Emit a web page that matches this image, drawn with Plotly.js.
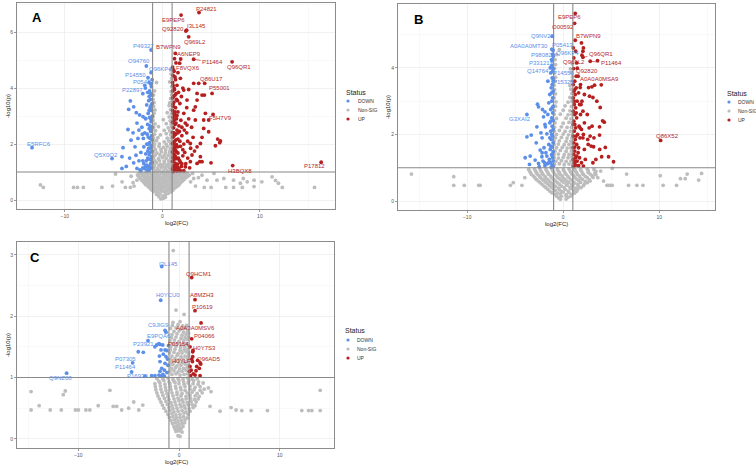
<!DOCTYPE html>
<html><head><meta charset="utf-8">
<script src="https://cdn.plot.ly/plotly-3.0.1.min.js"></script>
<style>html,body{margin:0;padding:0;background:#fff}#chart{width:756px;height:469px}</style>
</head><body><div id="chart"></div>
<script>
// ---------------- DATA ----------------
const statusNames = ['DOWN', 'Non-SIG', 'UP'];
const xTicks = [-10, 0, 10];
const yTicksA = [0, 2, 4, 6];
const yTicksB = [0, 2, 4];
const yTicksC = [0, 1, 2, 3];
const fcCut = 1;      // |log2FC| threshold
const pCut = 1;       // -log10(p) threshold

// ---- Panel A ----
const A_label_names = ['P24821','E9PEP6','I3L145','Q92820','Q969L2','B7WPN9','A6NEP9','P11464','Q96QR1','F8VQX6','Q86U17','P55001','F5H7V9','H3BQX8','P17812','P49327','O94760','Q96KP4','P14550','P05413','P22897','E5RFC6','Q5X0Q2'];
const A_label_x = [3.76,1.92,2.49,2.41,2.70,1.33,1.88,3.21,7.15,1.77,4.34,5.10,5.20,7.21,16.28,-1.16,-1.64,-1.16,-1.47,-1.16,-1.74,-13.36,-5.16];
const A_label_y = [6.70,6.61,6.07,6.04,5.83,5.24,5.04,5.03,4.94,4.89,4.17,3.81,3.06,1.23,1.35,5.36,4.79,4.55,4.37,4.14,4.00,1.87,1.48];
const A_down = [[-1.05,4.3],[-1.12,4.05],[-1.3,3.9],[-1.5,3.85],[-1.08,3.75],[-1.2,3.6],[-1.4,3.55],[-1.05,3.45],[-1.6,3.4],[-1.25,3.3],[-1.1,3.2],[-1.45,3.1],[-1.03,3.0],[-1.3,2.95],[-1.7,2.9],[-1.15,2.8],[-1.5,2.7],[-1.05,2.6],[-1.35,2.55],[-1.2,2.45],[-1.8,2.4],[-1.1,2.3],[-1.45,2.25],[-1.05,2.15],[-1.3,2.05],[-1.6,2.0],[-1.15,1.95],[-1.9,1.9],[-1.4,1.85],[-1.05,1.75],[-1.25,1.7],[-1.7,1.65],[-1.1,1.55],[-1.5,1.5],[-1.3,1.45],[-2.0,1.4],[-1.05,1.35],[-1.2,1.3],[-1.6,1.25],[-1.4,1.2],[-1.1,1.15],[-1.8,1.12],[-1.3,1.08],[-1.55,1.05],[-2.2,1.05],
 [-1.15,4.15],[-1.2,3.8],[-1.35,3.7],[-1.15,3.38],[-1.35,3.2],[-1.2,2.9],[-1.25,2.65],[-1.1,2.5],[-1.55,2.35],[-1.25,2.2],[-1.45,2.0],[-1.2,1.85],[-1.5,1.75],[-1.35,1.62],[-1.2,1.45],[-1.65,1.4],[-1.25,1.18],[-1.45,1.1],[-1.7,1.2],[-2.0,1.15],
 [-3.28,3.54],[-3.45,3.24],[-2.94,3.33],[-2.67,3.12],[-2.33,3.04],[-1.98,2.98],[-1.74,2.92],[-3.52,2.52],[-3.21,2.14],[-4.03,1.87],[-4.14,1.55],[-3.35,1.5],[-2.94,1.33],[-2.6,1.13],[-4.14,1.13],[-2.3,1.08],[-3.0,2.4],[-2.5,2.2],[-2.8,1.9],[-2.2,1.7],[-3.7,1.2],[-2.1,2.6],[-2.4,1.4],[-1.95,2.2],[-2.7,1.6],[-2.0,3.8],[-1.8,4.1],[-1.35,4.2],[-2.4,2.5],[-2.05,2.35],[-1.9,1.3],[-2.6,2.75]];
const A_up = [[1.05,4.75],[1.2,4.6],[1.1,4.45],[1.35,4.3],[1.05,4.2],[1.5,4.1],[1.2,4.0],[1.08,3.9],[1.65,3.85],[1.3,3.75],[1.05,3.65],[1.45,3.6],[1.2,3.5],[1.8,3.45],[1.1,3.35],[1.35,3.3],[1.05,3.2],[1.6,3.15],[1.25,3.05],[1.1,2.95],[1.45,2.9],[1.9,2.85],[1.05,2.78],[1.3,2.7],[1.7,2.65],[1.15,2.58],[1.5,2.5],[1.05,2.42],[1.35,2.35],[2.0,2.3],[1.1,2.25],[1.6,2.18],[1.25,2.1],[1.05,2.02],[1.45,1.98],[1.85,1.92],[1.15,1.85],[1.35,1.78],[1.05,1.72],[1.6,1.68],[1.25,1.6],[2.1,1.58],[1.1,1.52],[1.45,1.48],[1.75,1.42],[1.05,1.38],[1.3,1.32],[1.55,1.28],[1.15,1.22],[1.95,1.2],[1.4,1.15],[1.05,1.12],[1.7,1.1],[1.25,1.06],[1.5,1.04],[2.2,1.05],[1.1,1.02],[2.4,1.3],[2.3,1.7],[2.2,2.0],[2.6,1.5],[2.8,1.15],[2.5,2.4],[2.0,2.6],[2.2,3.1],[1.95,3.7],[2.5,3.3],[2.1,4.0],[1.85,4.35],[1.6,4.55],[1.4,4.9],[1.25,5.05],[2.7,2.9],[2.35,2.75],[3.0,2.6],[2.6,2.1],[3.3,1.75],[2.9,1.85],
 [1.15,4.65],[1.3,4.4],[1.1,4.1],[1.25,3.95],[1.4,3.8],[1.15,3.7],[1.55,3.55],[1.1,3.42],[1.3,3.15],[1.15,3.1],[1.5,3.02],[1.2,2.85],[1.4,2.75],[1.6,2.4],[1.2,2.3],[1.4,2.15],[1.15,2.0],[1.55,1.9],[1.25,1.8],[1.45,1.72],[1.15,1.65],[1.35,1.55],[1.65,1.5],[1.2,1.45],[1.85,1.35],[1.4,1.25],[1.25,1.15],[1.6,1.17],[1.85,1.05],[2.0,1.3],[2.1,1.8],[1.8,2.1],[1.75,2.45],[2.25,2.5],
 [3.21,4.17],[3.73,4.17],[2.70,3.95],[3.56,3.81],[4.31,3.75],[2.19,3.93],[3.38,3.33],[3.21,3.21],[4.41,3.10],[3.38,2.86],[4.24,2.86],[2.53,2.68],[4.24,2.56],[4.75,2.44],[5.67,2.18],[5.95,2.11],[5.44,1.94],[4.07,2.24],[3.90,2.02],[3.15,2.24],[2.87,2.02],[3.56,1.90],[3.04,1.61],[3.90,1.55],[4.07,1.37],[4.99,1.33],[2.36,1.19],[3.56,1.31],[2.87,1.37],[2.53,3.57],[3.56,3.57],[4.07,3.75],[3.83,1.37],[4.75,2.86],[5.88,2.05],[1.3,1.9],[1.2,2.4],[1.4,3.0]];
const A_nonsig = [[-0.15,0.04],[0.1,0.06],[0.3,0.1],[-0.35,0.12],[0.05,0.15],[-0.6,0.2],[-0.25,0.22],[0.35,0.2],[0.6,0.24],[-0.9,0.3],[-0.5,0.28],[-0.1,0.32],[0.2,0.3],[0.55,0.34],[0.9,0.29],
 [-1.2,0.4],[-0.8,0.38],[-0.4,0.42],[0.0,0.4],[0.4,0.37],[0.8,0.43],[1.2,0.41],
 [-1.5,0.5],[-1.1,0.52],[-0.7,0.48],[-0.3,0.51],[0.1,0.49],[0.5,0.53],[0.9,0.5],[1.3,0.47],[1.65,0.52],
 [-1.8,0.6],[-1.4,0.62],[-1.0,0.58],[-0.6,0.61],[-0.2,0.6],[0.2,0.63],[0.6,0.58],[1.0,0.61],[1.4,0.6],[1.85,0.62],
 [-2.1,0.7],[-1.65,0.72],[-1.2,0.68],[-0.8,0.71],[-0.4,0.7],[0.0,0.73],[0.4,0.69],[0.8,0.71],[1.2,0.68],[1.6,0.72],[2.1,0.7],
 [-2.3,0.8],[-1.8,0.82],[-1.3,0.79],[-0.9,0.81],[-0.5,0.8],[-0.1,0.78],[0.3,0.82],[0.7,0.8],[1.1,0.79],[1.5,0.83],[2.0,0.8],[2.45,0.81],
 [-2.55,0.9],[-2.0,0.92],[-1.5,0.89],[-1.1,0.91],[-0.7,0.9],[-0.3,0.88],[0.1,0.92],[0.5,0.9],[0.9,0.89],[1.3,0.91],[1.8,0.9],[2.3,0.92],[2.75,0.89],
 [-2.2,0.98],[-1.7,0.97],[-1.3,0.99],[-0.9,0.97],[-0.5,0.99],[0.0,0.97],[0.5,0.98],[0.9,0.99],[1.35,0.97],[1.8,0.98],[2.4,0.97],
 [-1.05,0.35],[-0.7,0.34],[-0.3,0.36],[0.4,0.33],[0.75,0.36],[1.05,0.35],
 [-1.35,0.45],[-1.0,0.46],[-0.6,0.44],[-0.2,0.45],[0.2,0.46],[0.6,0.44],[1.0,0.45],[1.4,0.46],
 [-1.7,0.55],[-1.3,0.56],[-0.9,0.54],[-0.5,0.55],[-0.1,0.56],[0.3,0.54],[0.7,0.55],[1.1,0.56],[1.5,0.55],[1.75,0.57],
 [-1.95,0.65],[-1.6,0.66],[-1.2,0.64],[-0.8,0.65],[-0.4,0.66],[0.0,0.64],[0.4,0.65],[0.8,0.66],[1.2,0.64],[1.6,0.65],[2.0,0.66],
 [-2.2,0.75],[-1.85,0.76],[-1.45,0.74],[-1.0,0.75],[-0.6,0.76],[-0.2,0.74],[0.2,0.75],[0.6,0.76],[1.0,0.74],[1.4,0.75],[1.85,0.76],[2.25,0.74],
 [-2.45,0.85],[-2.05,0.86],[-1.55,0.84],[-1.1,0.85],[-0.7,0.86],[-0.3,0.84],[0.1,0.85],[0.5,0.86],[0.9,0.84],[1.3,0.85],[1.75,0.86],[2.2,0.84],[2.6,0.85],
 [-2.35,0.94],[-1.8,0.93],[-1.3,0.95],[-0.9,0.94],[-0.5,0.93],[-0.1,0.95],[0.3,0.94],[0.7,0.93],[1.1,0.95],[1.55,0.94],[2.05,0.93],[2.55,0.95],
 [-0.9,1.15],[-0.5,1.12],[-0.1,1.17],[0.3,1.14],[0.7,1.16],[0.95,1.13],
 [-0.95,1.3],[-0.6,1.33],[-0.2,1.28],[0.2,1.31],[0.6,1.29],[0.9,1.32],
 [-0.9,1.5],[-0.4,1.48],[0.0,1.52],[0.4,1.49],[0.85,1.51],
 [-0.95,1.7],[-0.55,1.68],[-0.1,1.72],[0.3,1.69],[0.75,1.71],[0.97,1.66],
 [-0.85,1.9],[-0.35,1.92],[0.1,1.88],[0.5,1.91],[0.9,1.89],
 [-0.95,2.1],[-0.6,2.12],[0.2,2.08],[0.65,2.11],[0.95,2.09],
 [-0.8,2.35],[-0.2,2.33],[0.4,2.37],[0.85,2.34],
 [-0.9,2.6],[-0.4,2.62],[0.6,2.58],[0.95,2.61],
 [-0.95,2.85],[0.1,2.87],[0.8,2.83],
 [-0.85,3.1],[0.5,3.12],[0.92,3.08],
 [-0.9,3.35],[0.7,3.37],[0.95,3.5],
 [-0.95,3.6],[0.85,3.62],
 [-0.8,3.9],[0.9,3.88],[0.95,4.05],
 [-0.6,4.2],[0.75,4.22],[0.9,4.5],[0.85,4.65],
 [-0.75,1.05],[-0.3,1.06],[0.1,1.04],[0.5,1.05],[0.85,1.06],
 [-0.8,1.22],[-0.35,1.23],[0.05,1.21],[0.45,1.22],[0.8,1.23],
 [-0.75,1.4],[-0.3,1.41],[0.2,1.39],[0.65,1.4],[0.97,1.41],
 [-0.75,1.6],[-0.25,1.61],[0.2,1.59],[0.6,1.6],[0.95,1.61],
 [-0.7,1.8],[-0.15,1.81],[0.35,1.79],[0.8,1.8],
 [-0.8,2.0],[-0.3,2.01],[0.4,1.99],[0.85,2.0],
 [-0.9,2.22],[-0.45,2.23],[0.5,2.21],[0.9,2.22],
 [-0.7,2.48],[0.2,2.49],[0.75,2.47],
 [-0.75,2.72],[0.4,2.73],[0.9,2.71],
 [-0.95,2.98],[0.7,2.97],[-0.75,3.22],[0.85,3.23],[-0.85,3.48],[0.75,3.47],[-0.9,3.75],[0.95,3.76],[0.95,4.35],
 [-12.5,0.54],[-12.2,0.45],[-9.1,0.45],[-8.7,0.45],[-8.1,0.45],[-6.2,0.45],[-5.1,0.5],[-4.8,0.93],[-4.13,0.65],[-3.79,0.45],[-3.28,0.45],[-3.0,0.62],[-2.6,0.71],[-3.2,0.85],[-2.9,0.5],
 [10.2,0.65],[11.25,0.83],[11.6,0.7],[11.9,0.6],[12.3,0.45],[15.6,0.45],[9.4,0.48],[9.4,0.71],[8.3,0.77],[8.2,0.45],[8.7,0.65],[8.0,0.6],[7.3,0.45],[7.3,0.71],[6.5,0.45],[6.3,0.77],[5.6,0.71],[5.3,0.95],[5.0,0.45],[4.58,0.71],[4.3,0.45],[4.07,0.89],[3.7,0.8],[3.4,0.5],[3.21,0.77],[3.1,0.95],[2.9,0.65]];

// ---- Panel B ----
const B_label_names = ['E9PEP6','O00592','B7WPN9','Q9NV29','A0A0A0MT30','P05413','Q96KP4','P98082','P33121','Q14764','P14550','P15328','Q96QR1','Q969L2','P11464','Q92820','A0A0A0MSA9','G3XAI2','Q86X52'];
const B_label_x = [1.25,1.18,1.25,-1.15,-1.18,-1.06,-1.09,-1.18,-1.18,-1.25,-1.04,-1.04,2.05,1.46,2.81,1.07,1.35,-3.78,10.14];
const B_label_y = [5.64,5.34,4.83,4.95,4.56,4.53,4.41,4.21,4.08,4.03,3.98,3.68,4.32,3.99,4.20,3.98,3.75,2.60,1.82];
const B_down = [[-1.05,4.35],[-1.2,4.25],[-1.1,3.9],[-1.3,3.85],[-1.05,3.6],[-1.15,3.5],[-1.25,3.4],[-1.05,3.3],[-1.4,3.2],[-1.1,3.1],[-1.2,3.0],[-1.5,2.95],[-1.05,2.85],[-1.3,2.75],[-1.1,2.65],[-1.6,2.6],[-1.2,2.5],[-1.05,2.42],[-1.4,2.35],[-1.15,2.25],[-1.05,2.15],[-1.3,2.1],[-1.7,2.02],[-1.1,1.95],[-1.25,1.85],[-1.05,1.75],[-1.5,1.7],[-1.15,1.62],[-1.35,1.55],[-1.05,1.48],[-1.8,1.45],[-1.2,1.4],[-1.1,1.3],[-1.45,1.25],[-1.05,1.2],[-1.3,1.15],[-1.65,1.12],[-1.15,1.08],[-1.05,1.04],[-1.9,1.06],[-2.1,1.2],[-2.0,1.6],[-1.9,2.3],[-2.2,1.9],[-1.6,3.6],[-1.35,4.0],
 [-1.15,3.7],[-1.2,3.25],[-1.15,2.8],[-1.3,2.4],[-1.2,2.0],[-1.4,1.9],[-1.3,1.65],[-1.15,1.35],[-1.5,1.15],[-1.25,1.02],
 [-2.68,2.91],[-2.57,2.83],[-2.16,2.75],[-2.05,2.53],[-1.9,2.68],[-3.78,1.93],[-3.33,1.98],[-2.74,2.23],[-2.32,2.05],[-1.85,2.23],[-2.81,1.75],[-2.4,1.53],[-2.2,1.45],[-3.96,1.30],[-3.44,1.35],[-3.51,1.10],[-2.92,1.23],[-2.57,1.13],[-2.22,1.33],[-1.95,1.15],[-1.7,1.35],[-2.5,1.03]];
const B_up = [[1.05,4.6],[1.3,4.5],[1.1,4.3],[1.4,4.15],[1.2,3.6],[1.05,3.5],[1.35,3.4],[1.1,3.3],[1.25,3.2],[1.05,3.1],[1.45,3.0],[1.15,2.9],[1.3,2.8],[1.05,2.7],[1.2,2.6],[1.4,2.5],[1.1,2.4],[1.05,2.3],[1.3,2.2],[1.15,2.1],[1.5,2.0],[1.05,1.95],[1.25,1.85],[1.1,1.75],[1.4,1.7],[1.05,1.6],[1.2,1.5],[1.55,1.45],[1.1,1.4],[1.3,1.3],[1.05,1.25],[1.45,1.2],[1.15,1.15],[1.3,1.08],[1.05,1.04],[1.6,1.06],[1.7,1.3],[1.6,1.6],[1.75,1.9],[1.65,2.25],[1.8,2.6],[1.7,2.9],[1.6,3.25],[1.8,3.5],[1.55,3.75],[2.1,4.6],[1.9,4.75],[2.05,4.5],[1.95,4.38],[3.57,4.22],
 [1.2,3.35],[1.15,3.0],[1.35,2.65],[1.2,2.3],[1.35,1.95],[1.2,1.62],[1.4,1.35],[1.25,1.18],
 [1.77,3.41],[2.64,3.41],[2.99,3.43],[3.26,3.48],[3.96,3.49],[2.2,3.2],[1.95,3.0],[2.74,3.15],[3.09,3.11],[1.85,2.9],[2.05,2.7],[3.85,2.81],[1.75,2.2],[2.1,2.0],[2.8,1.95],[4.10,2.41],[4.27,2.37],[2.2,2.35],[2.7,2.2],[3.0,2.25],[1.9,2.15],[3.78,2.23],[2.05,1.9],[2.55,1.85],[3.2,1.9],[3.78,1.98],[2.6,1.7],[2.9,1.65],[2.2,1.55],[3.16,1.63],[4.38,1.61],[3.8,1.55],[4.72,1.33],[5.24,1.18],[4.0,1.33],[3.4,1.25],[3.09,1.15],[2.3,1.25],[1.9,1.15],[2.1,1.05],[3.5,3.0],[2.5,2.6]];
const B_nonsig = [[-0.3,0.05],[0.3,0.06],[-0.7,0.15],[-0.2,0.14],[0.3,0.16],[0.8,0.15],[-1.2,0.25],[-0.6,0.24],[0.0,0.27],[0.6,0.25],[1.2,0.24],
 [-1.6,0.35],[-1.0,0.36],[-0.4,0.34],[0.2,0.35],[0.8,0.37],[1.5,0.35],
 [-2.0,0.45],[-1.4,0.46],[-0.8,0.44],[-0.2,0.45],[0.4,0.47],[1.0,0.45],[1.6,0.44],[2.1,0.46],
 [-2.4,0.55],[-1.8,0.56],[-1.2,0.54],[-0.6,0.55],[0.0,0.57],[0.6,0.55],[1.2,0.54],[1.8,0.56],[2.5,0.55],
 [-2.8,0.65],[-2.2,0.66],[-1.6,0.64],[-1.0,0.65],[-0.4,0.67],[0.2,0.65],[0.8,0.64],[1.4,0.66],[2.0,0.65],[2.7,0.64],
 [-3.1,0.75],[-2.5,0.76],[-1.9,0.74],[-1.3,0.75],[-0.7,0.77],[-0.1,0.75],[0.5,0.74],[1.1,0.76],[1.7,0.75],[2.3,0.74],[3.0,0.76],
 [-3.4,0.85],[-2.8,0.86],[-2.2,0.84],[-1.6,0.85],[-1.0,0.87],[-0.4,0.85],[0.2,0.84],[0.8,0.86],[1.4,0.85],[2.0,0.84],[2.6,0.86],[3.3,0.85],
 [-3.6,0.95],[-3.0,0.96],[-2.4,0.94],[-1.8,0.95],[-1.2,0.97],[-0.6,0.95],[0.0,0.94],[0.6,0.96],[1.2,0.95],[1.8,0.94],[2.5,0.96],[3.2,0.95],
 [-0.5,0.1],[0.5,0.11],[-0.9,0.2],[-0.3,0.21],[0.3,0.19],[0.9,0.2],
 [-1.4,0.3],[-0.8,0.31],[-0.2,0.29],[0.5,0.3],[1.1,0.31],[1.4,0.29],
 [-1.8,0.4],[-1.2,0.41],[-0.5,0.39],[0.1,0.4],[0.7,0.41],[1.3,0.39],[1.85,0.4],
 [-2.2,0.5],[-1.6,0.51],[-1.0,0.49],[-0.4,0.5],[0.3,0.51],[0.9,0.49],[1.5,0.5],[2.2,0.51],
 [-2.6,0.6],[-2.0,0.61],[-1.4,0.59],[-0.8,0.6],[-0.2,0.61],[0.4,0.59],[1.0,0.6],[1.6,0.61],[2.3,0.59],[2.8,0.6],
 [-2.95,0.7],[-2.4,0.71],[-1.8,0.69],[-1.2,0.7],[-0.6,0.71],[0.0,0.69],[0.6,0.7],[1.2,0.71],[1.8,0.69],[2.5,0.7],[3.1,0.71],
 [-3.3,0.8],[-2.7,0.81],[-2.1,0.79],[-1.5,0.8],[-0.9,0.81],[-0.3,0.79],[0.3,0.8],[0.9,0.81],[1.5,0.79],[2.1,0.8],[2.8,0.81],[3.4,0.79],
 [-3.5,0.9],[-2.9,0.91],[-2.3,0.89],[-1.7,0.9],[-1.1,0.91],[-0.5,0.89],[0.1,0.9],[0.7,0.91],[1.3,0.89],[1.9,0.9],[2.6,0.91],[3.4,0.89],
 [-0.9,1.1],[-0.4,1.12],[0.1,1.09],[0.6,1.11],[0.95,1.1],
 [-0.95,1.3],[-0.5,1.29],[0.0,1.31],[0.5,1.3],[0.9,1.32],
 [-0.85,1.5],[-0.3,1.52],[0.3,1.49],[0.85,1.5],
 [-0.95,1.7],[-0.5,1.71],[0.1,1.69],[0.6,1.7],[0.95,1.72],
 [-0.8,1.9],[-0.2,1.91],[0.4,1.89],[0.9,1.9],
 [-0.95,2.1],[-0.4,2.12],[0.2,2.09],[0.75,2.1],
 [-0.85,2.35],[0.0,2.34],[0.6,2.36],[0.95,2.35],
 [-0.95,2.6],[-0.3,2.61],[0.5,2.59],[0.9,2.6],
 [-0.8,2.85],[0.2,2.86],[0.85,2.84],
 [-0.95,3.1],[0.7,3.11],[0.95,3.09],
 [-0.9,3.35],[0.8,3.36],[-0.85,3.6],[0.9,3.61],[-0.95,3.85],[0.85,3.86],[-0.8,4.1],[0.95,4.12],[-0.7,4.4],[-0.4,4.55],
 [-0.75,1.2],[-0.2,1.21],[0.3,1.19],[0.8,1.2],[-0.95,1.4],[-0.5,1.41],[0.1,1.39],[0.6,1.4],[0.95,1.41],
 [-0.7,1.6],[-0.1,1.61],[0.4,1.59],[0.8,1.6],[-0.95,1.8],[-0.4,1.81],[0.3,1.79],[0.8,1.8],
 [-0.7,2.0],[0.0,2.01],[0.55,1.99],[0.95,2.0],[-0.9,2.22],[-0.2,2.23],[0.4,2.21],[0.85,2.22],
 [-0.7,2.48],[0.3,2.49],[0.8,2.47],[-0.9,2.72],[0.0,2.73],[0.7,2.71],[-0.75,2.98],[0.5,2.97],[0.9,2.99],
 [-0.8,3.22],[0.9,3.23],[-0.95,3.48],[0.7,3.47],[-0.8,3.72],[0.95,3.73],[-0.9,3.98],[0.75,3.97],[-0.85,4.25],
 [-15.8,0.81],[-11.4,0.73],[-11.4,0.47],[-10.3,0.47],[-8.8,0.47],[-8.65,0.47],[-5.5,0.47],[-5.2,0.55],[-4.3,0.47],[-4.0,0.7],
 [3.33,0.81],[3.6,0.7],[3.9,0.9],[4.2,0.6],[4.55,0.47],[4.7,0.47],[4.9,0.47],[5.1,0.47],[5.1,0.98],[6.6,0.81],[6.8,0.47],[7.67,0.47],[8.3,0.47],[10.1,0.76],[10.4,0.47],[11.8,0.47],[12.2,0.67],[12.7,0.67],[12.9,0.81],[14.1,0.63],[14.4,0.83]];

// ---- Panel C ----
const C_label_names = ['I3L145','Q9HCM1','H0YCU0','A8MZH3','P10619','A0A0A0MSV6','C9JIG9','P04066','E9PQA6','P23921','P05154','H0Y7S3','H0YLF3','Q96AD5','P07305','P11464','P16930','Q9NZ08'];
const C_label_x = [-1.72,1.26,-1.82,1.59,1.59,2.19,-1.39,1.26,-3.08,-2.22,1.09,1.39,1.26,2.09,-4.61,-4.71,-3.38,-11.17];
const C_label_y = [2.81,2.63,2.26,2.27,2.09,1.89,1.77,1.63,1.60,1.53,1.50,1.44,1.30,1.24,1.24,1.09,1.02,1.07];
const C_down = [[-4.05,1.42],[-3.55,1.41],[-1.89,1.54],[-1.62,1.53],[-1.79,1.45],[-1.39,1.45],[-1.56,1.38],[-1.29,1.34],[-1.89,1.26],[-1.39,1.23],[-1.72,1.15],[-1.89,1.10],[-1.45,1.12],[-1.6,1.05],[-1.2,1.08],[-2.72,1.03],[-2.39,1.03],[-2.0,1.04],[-1.8,1.02],[-1.46,1.02],[-1.22,1.44],[-1.29,1.74],[-1.1,1.2],[-1.15,1.3],[-2.0,1.55],[-1.95,1.35],[-1.05,1.52],[-2.4,1.5]];
const C_up = [[1.09,1.18],[1.2,1.12],[1.42,1.06],[1.69,1.11],[1.76,1.18],[2.02,1.15],[2.16,1.22],[2.09,1.03],[1.15,1.03],[1.05,1.1],[1.33,1.26],[1.36,1.34],[1.36,1.42],[1.6,1.04],[1.85,1.28]];
const C_nonsig = [[-0.1,0.05],[0.1,0.04],[-0.3,0.12],[0.0,0.13],[0.3,0.11],[-0.5,0.2],[-0.2,0.21],[0.1,0.19],[0.4,0.2],
 [-0.8,0.3],[-0.45,0.31],[-0.1,0.29],[0.25,0.3],[0.6,0.31],
 [-1.1,0.4],[-0.7,0.41],[-0.3,0.39],[0.1,0.4],[0.5,0.42],[0.9,0.4],
 [-1.5,0.5],[-1.0,0.51],[-0.6,0.49],[-0.2,0.5],[0.2,0.52],[0.6,0.5],[1.0,0.49],[1.4,0.51],
 [-1.8,0.6],[-1.3,0.61],[-0.8,0.59],[-0.4,0.6],[0.0,0.62],[0.4,0.6],[0.8,0.59],[1.2,0.61],[1.7,0.6],
 [-2.1,0.7],[-1.6,0.71],[-1.1,0.69],[-0.6,0.7],[-0.2,0.72],[0.2,0.7],[0.7,0.69],[1.1,0.71],[1.6,0.7],[2.0,0.69],
 [-2.3,0.8],[-1.8,0.81],[-1.3,0.79],[-0.8,0.8],[-0.3,0.82],[0.2,0.8],[0.6,0.79],[1.1,0.81],[1.5,0.8],[2.1,0.79],[2.5,0.81],
 [-2.4,0.9],[-1.9,0.91],[-1.4,0.89],[-0.9,0.9],[-0.4,0.92],[0.0,0.9],[0.5,0.89],[0.9,0.91],[1.4,0.9],[1.9,0.89],[2.4,0.91],
 [-2.2,0.98],[-1.6,0.97],[-1.1,0.99],[-0.6,0.97],[-0.1,0.98],[0.4,0.97],[0.85,0.99],[1.3,0.97],[1.8,0.98],
 [-0.4,0.16],[-0.1,0.17],[0.2,0.16],[-0.65,0.25],[-0.35,0.26],[0.0,0.24],[0.3,0.25],[0.55,0.26],
 [-0.95,0.35],[-0.6,0.36],[-0.25,0.34],[0.1,0.35],[0.45,0.36],[0.8,0.34],
 [-1.3,0.45],[-0.9,0.46],[-0.5,0.44],[-0.1,0.45],[0.3,0.46],[0.7,0.44],[1.1,0.45],
 [-1.65,0.55],[-1.15,0.56],[-0.7,0.54],[-0.3,0.55],[0.1,0.56],[0.5,0.54],[0.9,0.55],[1.3,0.56],[1.6,0.54],
 [-1.95,0.65],[-1.45,0.66],[-1.0,0.64],[-0.5,0.65],[-0.1,0.66],[0.3,0.64],[0.7,0.65],[1.15,0.66],[1.55,0.64],[1.9,0.65],
 [-2.2,0.75],[-1.7,0.76],[-1.2,0.74],[-0.7,0.75],[-0.2,0.76],[0.3,0.74],[0.8,0.75],[1.3,0.76],[1.8,0.74],[2.3,0.75],
 [-2.35,0.85],[-1.85,0.86],[-1.35,0.84],[-0.85,0.85],[-0.35,0.86],[0.15,0.84],[0.6,0.85],[1.1,0.86],[1.6,0.84],[2.1,0.85],
 [-2.0,0.94],[-1.5,0.95],[-1.0,0.93],[-0.5,0.94],[0.0,0.95],[0.45,0.93],[0.95,0.94],[1.45,0.95],[1.95,0.93],
 [-0.9,1.1],[-0.5,1.11],[-0.1,1.09],[0.3,1.1],[0.7,1.12],[0.95,1.1],
 [-0.95,1.2],[-0.6,1.21],[-0.2,1.19],[0.2,1.2],[0.6,1.22],[0.9,1.2],
 [-0.85,1.3],[-0.4,1.31],[0.0,1.29],[0.4,1.3],[0.85,1.31],
 [-0.95,1.4],[-0.5,1.41],[-0.1,1.39],[0.3,1.4],[0.7,1.42],[0.95,1.4],
 [-0.8,1.5],[-0.3,1.51],[0.15,1.49],[0.55,1.5],[0.9,1.52],
 [-0.9,1.6],[-0.45,1.61],[0.0,1.59],[0.45,1.6],[0.8,1.62],
 [-0.7,1.7],[-0.2,1.71],[0.3,1.69],[0.7,1.7],[0.95,1.72],
 [-0.85,1.8],[-0.3,1.81],[0.2,1.79],[0.6,1.8],[-0.6,1.9],[0.1,1.91],[0.5,2.03],[-0.3,2.1],[-0.57,3.07],
 [-0.7,1.05],[-0.3,1.06],[0.1,1.04],[0.5,1.05],[0.85,1.06],[-0.75,1.15],[-0.35,1.16],[0.05,1.14],[0.45,1.15],[0.8,1.16],
 [-0.8,1.25],[-0.4,1.26],[0.0,1.24],[0.4,1.25],[0.75,1.26],[-0.7,1.35],[-0.2,1.36],[0.2,1.34],[0.6,1.35],[0.95,1.36],
 [-0.85,1.45],[-0.4,1.46],[0.1,1.44],[0.5,1.45],[0.8,1.46],[-0.6,1.55],[-0.1,1.56],[0.35,1.54],[0.75,1.55],
 [-0.75,1.65],[-0.3,1.66],[0.2,1.64],[0.6,1.65],[0.95,1.66],[-0.5,1.75],[0.0,1.76],[0.45,1.74],[0.85,1.75],[-0.65,1.85],[-0.1,1.86],[0.35,1.84],[0.75,1.85],
 [-14.7,0.77],[-14.7,0.47],[-13.9,0.54],[-12.8,0.47],[-11.7,0.47],[-11.5,0.72],[-11.3,0.78],[-10.3,0.47],[-10.0,0.47],[-9.25,0.47],[-8.86,0.47],[-8.03,0.54],[-6.87,0.79],[-6.54,0.53],[-6.2,0.53],[-5.7,0.47],[-5.0,0.5],[-4.5,0.6],[-4.0,0.47],[-3.6,0.55],
 [2.92,0.83],[3.18,0.77],[3.08,0.53],[4.08,0.45],[5.17,0.51],[5.67,0.47],[6.24,0.46],[7.16,0.46],[8.79,0.46],[12.2,0.46],[12.87,0.46],[13.2,0.46],[14.03,0.46],[14.03,0.79]];

// ---------------- STYLE / POSITIONS ----------------
const COL = {DOWN:'#5b8fe8', 'Non-SIG':'#bdbdbd', UP:'#b51f1f'};
const FONT = 'Liberation Sans, Arial, sans-serif';
const W = 756, H = 469;
// label offsets in pixels [dx, dy(down), segment]
const A_off = [[7,-4,0],[-8,5,0],[10,-4,0],[-13,-2,0],[6,5,0],[-7,-6,1],[8,-5,0],[19,3,1],[7,5,0],[8,5,0],[7,-4,0],[7,-5,0],[7,4,0],[7,5,0],[-7,4,0],[-8,-4,0],[-7,-5,0],[9,-4,0],[-13,-3,0],[-8,-2,0],[-13,2,0],[7,-4,0],[-6,-4,0]];
const B_off = [[-6,4,0],[-12,4,0],[13,-4,0],[-9,0,0],[-23,-3,0],[9,-5,0],[15,-1,0],[-10,-6,1],[-12,-2,0],[-13,4,0],[10,4,0],[10,3,0],[18,-3,1],[-3,-6,0],[21,2,1],[13,2,0],[23,3,1],[-7,5,0],[7,-4,0]];
const C_off = [[7,-3,0],[7,-4,0],[7,-5,0],[7,-5,0],[7,-4,0],[-6,5,0],[-7,-5,0],[13,-3,0],[11,-5,1],[-13,-1,0],[-11,-3,0],[11,-3,0],[-8,2,0],[9,-4,0],[-7,-4,0],[-6,-5,0],[-8,0,0],[-6,5,0]];

const panels = [
  {key:'A', xa:'x', ya:'y', names:A_label_names, lx:A_label_x, ly:A_label_y, down:A_down, up:A_up, ns:A_nonsig, off:A_off,
   px:[17,335], py:[3,209], xr:[-14.9,17.7], yr:[-0.32,7.04], yt:yTicksA, ymin:1,
   letter:[37,18], xt:[176,223], yt2:[8,106], leg:[344,92,348,356,101]},
  {key:'B', xa:'x2', ya:'y2', names:B_label_names, lx:B_label_x, ly:B_label_y, down:B_down, up:B_up, ns:B_nonsig, off:B_off,
   px:[398,715], py:[4,210], xr:[-17.2,15.8], yr:[-0.27,5.92], yt:yTicksB, ymin:1,
   letter:[418,19.5], xt:[556,224], yt2:[388,107], leg:[725,93,729,736,102]},
  {key:'C', xa:'x3', ya:'y3', names:C_label_names, lx:C_label_x, ly:C_label_y, down:C_down, up:C_up, ns:C_nonsig, off:C_off,
   px:[17,334], py:[242,448], xr:[-16.1,15.4], yr:[-0.15,3.21], yt:yTicksC, ymin:0.5,
   letter:[35,257.5], xt:[176,462], yt2:[8,345], leg:[343,330,348,355,340]}
];

const traces = [], annotations = [], shapes = [];
const layout = {width:W, height:H, margin:{l:0,r:0,t:0,b:0}, paper_bgcolor:'#fff', plot_bgcolor:'#fff',
  showlegend:false, font:{family:FONT}};

const px2x = p => p / W, py2y = p => 1 - p / H;

panels.forEach((P, i) => {
  const sfx = i === 0 ? '' : String(i + 1);
  const isUp = (k) => P.lx[k] > 0;
  const upX = P.up.map(d => d[0]), upY = P.up.map(d => d[1]);
  const dnX = P.down.map(d => d[0]), dnY = P.down.map(d => d[1]);
  P.names.forEach((n, k) => { if (isUp(k)) { upX.push(P.lx[k]); upY.push(P.ly[k]); } else { dnX.push(P.lx[k]); dnY.push(P.ly[k]); } });
  const mk = (c) => ({color:c, size:3.8, line:{width:0}});
  traces.push({type:'scatter', mode:'markers', x:P.ns.map(d=>d[0]), y:P.ns.map(d=>d[1]), xaxis:P.xa, yaxis:P.ya, marker:mk(COL['Non-SIG']), name:'Non-SIG', hoverinfo:'skip'});
  traces.push({type:'scatter', mode:'markers', x:dnX, y:dnY, xaxis:P.xa, yaxis:P.ya, marker:mk(COL.DOWN), name:'DOWN'});
  traces.push({type:'scatter', mode:'markers', x:upX, y:upY, xaxis:P.xa, yaxis:P.ya, marker:mk(COL.UP), name:'UP'});

  const axCommon = {showgrid:true, gridcolor:'#ebebeb', gridwidth:0.6, zeroline:false, showline:true, mirror:true,
    linecolor:'#8c8c8c', linewidth:1, ticks:'outside', ticklen:2, tickwidth:0.6, tickcolor:'#555',
    tickfont:{size:5, color:'#555', family:FONT}, fixedrange:true};
  layout['xaxis' + sfx] = Object.assign({}, axCommon, {domain:[px2x(P.px[0]), px2x(P.px[1])], range:P.xr,
    tickvals:xTicks, anchor:P.ya, minor:{showgrid:true, gridcolor:'#f4f4f4', gridwidth:0.5, dtick:5, tick0:0}});
  layout['yaxis' + sfx] = Object.assign({}, axCommon, {domain:[py2y(P.py[1]), py2y(P.py[0])], range:P.yr,
    tickvals:P.yt, anchor:P.xa, minor:{showgrid:true, gridcolor:'#f4f4f4', gridwidth:0.5, dtick:P.ymin, tick0:0}});

  // threshold lines
  const lc = {color:'#8a8a8a', width:1.1};
  [-fcCut, fcCut].forEach(v => shapes.push({type:'line', xref:P.xa, yref:P.ya + ' domain', x0:v, x1:v, y0:0, y1:1, line:lc, layer:'above'}));
  shapes.push({type:'line', xref:P.xa + ' domain', yref:P.ya, x0:0, x1:1, y0:pCut, y1:pCut, line:lc, layer:'above'});

  // point labels
  P.names.forEach((n, k) => {
    const c = isUp(k) ? COL.UP : COL.DOWN;
    const o = P.off[k];
    const a = {x:P.lx[k], y:P.ly[k], xref:P.xa, yref:P.ya, text:n, font:{size:6, color:c, family:FONT}, xanchor:'center', yanchor:'middle'};
    if (o[2]) { Object.assign(a, {showarrow:true, ax:o[0], ay:o[1], arrowhead:0, arrowwidth:0.6, arrowcolor:c, standoff:1.5}); }
    else { Object.assign(a, {showarrow:false, xshift:o[0], yshift:-o[1]}); }
    annotations.push(a);
  });

  // panel letter & axis titles
  annotations.push({xref:'paper', yref:'paper', x:px2x(P.letter[0]), y:py2y(P.letter[1]), text:'<b>' + P.key + '</b>', showarrow:false,
    font:{size:13, color:'#000', family:FONT}, xanchor:'center', yanchor:'middle'});
  annotations.push({xref:'paper', yref:'paper', x:px2x(P.xt[0]), y:py2y(P.xt[1]), text:'log2(FC)', showarrow:false,
    font:{size:6, color:'#222', family:FONT}, xanchor:'center', yanchor:'middle'});
  annotations.push({xref:'paper', yref:'paper', x:px2x(P.yt2[0]), y:py2y(P.yt2[1]), text:'-log10(p)', showarrow:false, textangle:-90,
    font:{size:6, color:'#222', family:FONT}, xanchor:'center', yanchor:'middle'});

  // legend
  const L = P.leg;
  annotations.push({xref:'paper', yref:'paper', x:px2x(L[0]), y:py2y(L[1]), text:'Status', showarrow:false,
    font:{size:7, color:'#222', family:FONT}, xanchor:'left', yanchor:'middle'});
  statusNames.forEach((s, j) => {
    const cy = L[4] + j * 9, cx = L[2], r = 1.6;
    shapes.push({type:'circle', xref:'paper', yref:'paper', x0:px2x(cx - r), x1:px2x(cx + r), y0:py2y(cy + r), y1:py2y(cy - r),
      fillcolor:COL[s], line:{width:0}});
    annotations.push({xref:'paper', yref:'paper', x:px2x(L[3]), y:py2y(cy), text:s, showarrow:false,
      font:{size:5, color:'#333', family:FONT}, xanchor:'left', yanchor:'middle'});
  });
});

layout.annotations = annotations;
layout.shapes = shapes;
Plotly.newPlot('chart', traces, layout, {staticPlot:true, displayModeBar:false});
</script>
</body></html>
